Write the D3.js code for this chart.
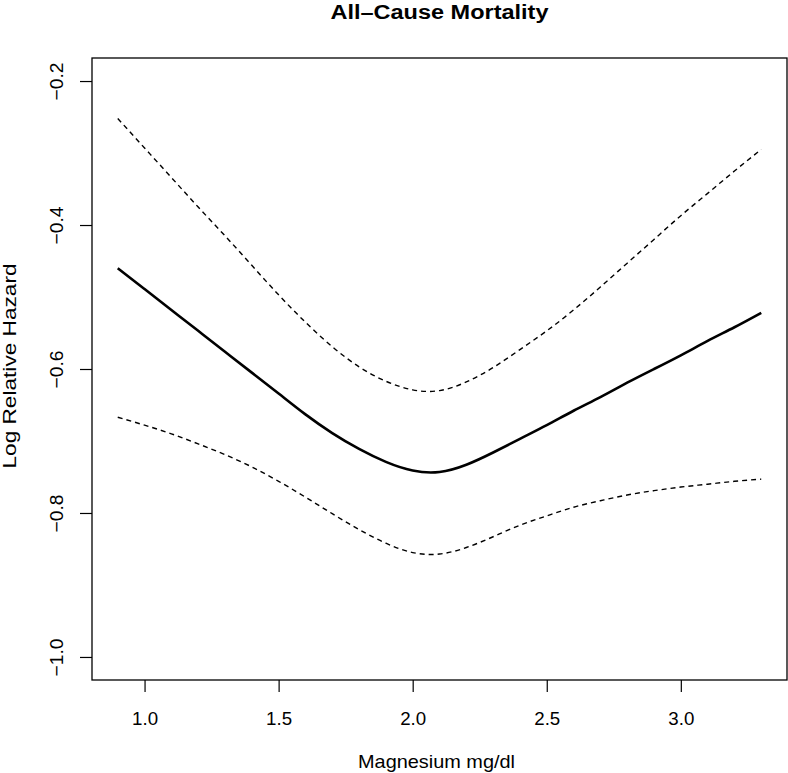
<!DOCTYPE html>
<html>
<head>
<meta charset="utf-8">
<script src="https://cdn.jsdelivr.net/npm/d3@7"></script>
<style>
  html, body { margin: 0; padding: 0; background: #fff; }
  svg { display: block; font-family: "Liberation Sans", Arial, Helvetica, sans-serif; }
</style>
</head>
<body>
<div id="chart"></div>
<script>
// ---- data ----
const magnesium = [0.9, 1.0, 1.1, 1.2, 1.3, 1.4, 1.5, 1.6, 1.7, 1.8, 1.9, 2.0, 2.1,
                   2.2, 2.3, 2.4, 2.5, 2.6, 2.7, 2.8, 2.9, 3.0, 3.1, 3.2, 3.3];
const logHazard = [-0.460, -0.489, -0.518, -0.547, -0.576, -0.605, -0.634, -0.663, -0.689,
                   -0.711, -0.729, -0.741, -0.743, -0.733, -0.716, -0.697, -0.678, -0.658,
                   -0.639, -0.619, -0.600, -0.581, -0.561, -0.542, -0.522];
const upperCI = [-0.252, -0.293, -0.334, -0.375, -0.415, -0.456, -0.497, -0.535, -0.569,
                 -0.597, -0.617, -0.629, -0.630, -0.618, -0.598, -0.573, -0.547, -0.518,
                 -0.486, -0.453, -0.420, -0.387, -0.356, -0.325, -0.295];
const lowerCI = [-0.667, -0.678, -0.690, -0.704, -0.719, -0.736, -0.756, -0.778, -0.801,
                 -0.823, -0.842, -0.855, -0.857, -0.848, -0.833, -0.817, -0.804, -0.792,
                 -0.783, -0.775, -0.769, -0.764, -0.760, -0.756, -0.753];
const xTicks = [1.0, 1.5, 2.0, 2.5, 3.0];
const yTicks = [-0.2, -0.4, -0.6, -0.8, -1.0];
const title = "All\u2013Cause Mortality";
const xLabel = "Magnesium mg/dl";
const yLabel = "Log Relative Hazard";

// ---- layout ----
const W = 788, H = 773;
const plot = { left: 92, right: 787, top: 58, bottom: 680 };

const svg = d3.select("#chart").append("svg")
  .attr("width", W).attr("height", H);

// R-style 4% expansion of the data ranges
const xlim = [0.9, 3.3], ylim = [-1.0, -0.2];
const xr = xlim[1] - xlim[0], yr = ylim[1] - ylim[0];
const x = d3.scaleLinear().domain([xlim[0] - 0.04 * xr, xlim[1] + 0.04 * xr])
  .range([plot.left, plot.right]);
const y = d3.scaleLinear().domain([ylim[0] - 0.04 * yr, ylim[1] + 0.04 * yr])
  .range([plot.bottom, plot.top]);

const fmt = d => d.toFixed(1).replace("-", "\u2212");
const FONT = "Liberation Sans, Arial, sans-serif";

// x axis
const xAxis = d3.axisBottom(x).tickValues(xTicks).tickSize(12)
  .tickFormat(d => d.toFixed(1));
const gx = svg.append("g").attr("transform", `translate(0,${plot.bottom})`).call(xAxis);
gx.select(".domain").remove();
gx.selectAll("line").attr("stroke", "#000").attr("stroke-width", 1.2);
gx.selectAll("text").attr("font-size", 19).attr("fill", "#000")
  .attr("font-family", FONT).attr("dy", null).attr("y", 45)
  .attr("textLength", 26).attr("lengthAdjust", "spacingAndGlyphs");

// y axis
const yAxis = d3.axisLeft(y).tickValues(yTicks).tickSize(12).tickFormat(fmt);
const gy = svg.append("g").attr("transform", `translate(${plot.left},0)`).call(yAxis);
gy.select(".domain").remove();
gy.selectAll("line").attr("stroke", "#000").attr("stroke-width", 1.2);
gy.selectAll("text")
  .attr("font-size", 18.5).attr("fill", "#000")
  .attr("font-family", FONT)
  .attr("x", null).attr("dy", null)
  .attr("text-anchor", "middle")
  .attr("textLength", 38).attr("lengthAdjust", "spacingAndGlyphs")
  .attr("transform", "translate(-29,0) rotate(-90)");

// box
svg.append("rect")
  .attr("x", plot.left).attr("y", plot.top)
  .attr("width", plot.right - plot.left).attr("height", plot.bottom - plot.top)
  .attr("fill", "none").attr("stroke", "#000").attr("stroke-width", 1.3);

// lines
const line = vals => d3.line()
  .x((d, i) => x(magnesium[i]))
  .y(d => y(d))
  .curve(d3.curveNatural)(vals);

svg.append("path").attr("d", line(upperCI))
  .attr("fill", "none").attr("stroke", "#000").attr("stroke-width", 1.4)
  .attr("stroke-dasharray", "5,4");
svg.append("path").attr("d", line(lowerCI))
  .attr("fill", "none").attr("stroke", "#000").attr("stroke-width", 1.4)
  .attr("stroke-dasharray", "5,4");
svg.append("path").attr("d", line(logHazard))
  .attr("fill", "none").attr("stroke", "#000").attr("stroke-width", 2.6);

// titles
const cx = (plot.left + plot.right) / 2;
svg.append("text").attr("x", cx).attr("y", 19)
  .attr("text-anchor", "middle").attr("font-size", 20).attr("font-weight", "bold")
  .attr("textLength", 218).attr("lengthAdjust", "spacingAndGlyphs")
  .text(title);
svg.append("text").attr("x", 436.5).attr("y", 768)
  .attr("text-anchor", "middle").attr("font-size", 18.5)
  .attr("textLength", 157).attr("lengthAdjust", "spacingAndGlyphs")
  .text(xLabel);
svg.append("text")
  .attr("transform", `translate(16,366) rotate(-90)`)
  .attr("text-anchor", "middle").attr("font-size", 18)
  .attr("textLength", 205).attr("lengthAdjust", "spacingAndGlyphs")
  .text(yLabel);
</script>
</body>
</html>
